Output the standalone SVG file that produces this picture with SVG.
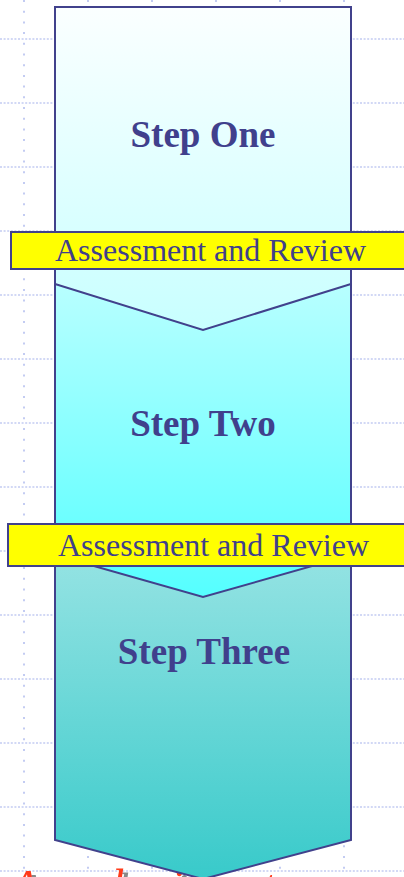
<svg xmlns="http://www.w3.org/2000/svg" width="404" height="877" viewBox="0 0 404 877">
<style>
.gh{stroke:#c3ccf2;stroke-width:1.5;stroke-dasharray:2 1.6;fill:none}
.gv{stroke:#c3ccf2;stroke-width:2;stroke-dasharray:2 8.7;fill:none}
.shape{stroke:#41418c;stroke-width:2;stroke-linejoin:miter}
.bar{fill:#ffff00;stroke:#41418c;stroke-width:2}
.title{font-family:"Liberation Serif","Times New Roman",serif;font-weight:bold;font-size:37px;fill:#40408c;text-anchor:middle}
.lbl{font-family:"Liberation Serif","Times New Roman",serif;font-size:32px;fill:#40408c}
.wm{font-family:"Liberation Serif","Times New Roman",serif;font-style:italic;font-size:48px;fill:#ff3b1a}
</style>
<defs>
<linearGradient id="g1" gradientUnits="userSpaceOnUse" x1="0" y1="7" x2="0" y2="330">
<stop offset="0" stop-color="#fbffff"/><stop offset="1" stop-color="#c8ffff"/>
</linearGradient>
<linearGradient id="g2" gradientUnits="userSpaceOnUse" x1="0" y1="284" x2="0" y2="597">
<stop offset="0" stop-color="#b8ffff"/><stop offset="1" stop-color="#55ffff"/>
</linearGradient>
<linearGradient id="g3" gradientUnits="userSpaceOnUse" x1="0" y1="555" x2="0" y2="879">
<stop offset="0" stop-color="#95e3e3"/><stop offset="1" stop-color="#38caca"/>
</linearGradient>
<filter id="sh" x="-10%" y="-50%" width="130%" height="200%">
<feDropShadow dx="5" dy="4" stdDeviation="0.5" flood-color="#888888"/>
</filter>
</defs>
<rect width="404" height="877" fill="#ffffff"/>
<g id="grid">
<path class="gh" d="M0,39H404M0,103H404M0,167H404M0,231H404M0,295H404M0,359H404M0,423H404M0,487H404M0,551H404M0,615H404M0,679H404M0,743H404M0,807H404M0,871H404"/>
<path class="gv" d="M24,0V877M88,0V877M152,0V877M216,0V877M280,0V877M344,0V877"/>
</g>
<g id="watermark">
<text class="wm" filter="url(#sh)" x="10 60 112 170 208 262 312 370" y="903">Aobiotem</text>
</g>
<g id="step3">
<path class="shape" fill="url(#g3)" d="M55,555 L351,555 L351,840 L203,879 L55,840 Z"/>
<text class="title" x="204" y="664">Step Three</text>
</g>
<g id="step2">
<path class="shape" fill="url(#g2)" d="M55,284 L351,284 L351,555 L203,597 L55,555 Z"/>
<text class="title" x="203" y="436">Step Two</text>
</g>
<g id="step1">
<path class="shape" fill="url(#g1)" d="M55,7 L351,7 L351,284 L203,330 L55,284 Z"/>
<text class="title" x="203" y="147">Step One</text>
</g>
<g id="review1">
<rect class="bar" x="11" y="232" width="400" height="37"/>
<text class="lbl" x="55" y="261">Assessment and Review</text>
</g>
<g id="review2">
<rect class="bar" x="8" y="524" width="405" height="42"/>
<text class="lbl" x="58" y="556">Assessment and Review</text>
</g>
<g id="connectors"></g>
</svg>
